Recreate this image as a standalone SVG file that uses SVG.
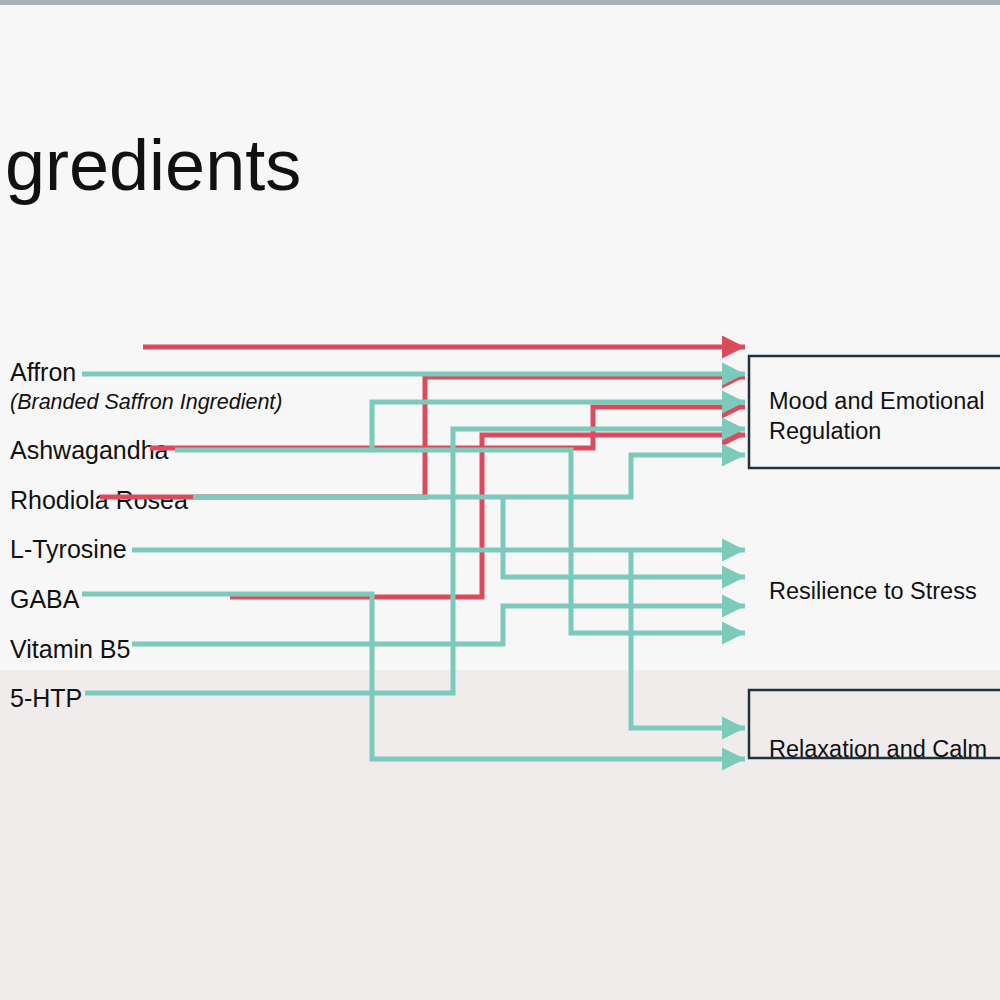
<svg xmlns="http://www.w3.org/2000/svg" width="1000" height="1000" viewBox="0 0 1000 1000">
<defs>
<marker id="at" viewBox="0 0 10 10" refX="10" refY="5" markerWidth="4.6" markerHeight="5.6" markerUnits="strokeWidth" orient="auto"><path d="M0,0L10,5L0,10z" fill="#7ccabb"/></marker>
<marker id="ar" viewBox="0 0 10 10" refX="10" refY="5" markerWidth="4.6" markerHeight="5.6" markerUnits="strokeWidth" orient="auto"><path d="M0,0L10,5L0,10z" fill="#dc4a5c"/></marker>
</defs>
<style>
text{font-family:"Liberation Sans",Arial,sans-serif;fill:#111}
.l{font-size:25px}
.b{font-size:23.5px}
.t{stroke:#7ccabb;stroke-width:5;fill:none;marker-end:url(#at)}
.r{stroke:#dc4a5c;stroke-width:5;fill:none;marker-end:url(#ar)}
.box{fill:none;stroke:#22323a;stroke-width:2.5}
</style>
<rect width="1000" height="1000" fill="#f8f7f8"/>
<rect y="670" width="1000" height="330" fill="#f0ecec"/>
<rect width="1000" height="5" fill="#a9afb8"/>
<text x="5" y="190" font-size="72">gredients</text>
<g id="ingredients">
<text class="l" x="10" y="381">Affron</text>
<text x="10" y="409" font-size="21.5" font-style="italic">(Branded Saffron Ingredient)</text>
<text class="l" x="10" y="459">Ashwagandha</text>
<text class="l" x="10" y="509">Rhodiola Rosea</text>
<text class="l" x="10" y="558">L-Tyrosine</text>
<text class="l" x="10" y="608">GABA</text>
<text class="l" x="10" y="658">Vitamin B5</text>
<text class="l" x="10" y="707">5-HTP</text>
</g>
<g id="mood"><rect class="box" x="749" y="356" width="260" height="112"/><text class="b" x="769" y="409">Mood and Emotional</text><text class="b" x="769" y="439">Regulation</text></g>
<g id="stress"><text class="b" x="769" y="599">Resilience to Stress</text></g>
<g id="relax"><rect class="box" x="749" y="690" width="260" height="68"/><text class="b" x="769" y="757">Relaxation and Calm</text></g>
<g id="connectors">
<path class="r" d="M143,347H745"/>
<path class="r" d="M100,497H425V377H745"/>
<path class="r" d="M150,448H593V407H745"/>
<path class="r" d="M230,597H482V435H745"/>
<path class="t" d="M82,374H745"/>
<path class="t" d="M175,450H372V402H745"/>
<path class="t" d="M372,450H571V633H745"/>
<path class="t" d="M193,497H631V455H745"/>
<path class="t" d="M503,497V577H745"/>
<path class="t" d="M132,550H745"/>
<path class="t" d="M631,550V728H745"/>
<path class="t" d="M82,594H372V759H745"/>
<path class="t" d="M132,644H503V606H745"/>
<path class="t" d="M85,693H453V429H745"/>
</g>
</svg>
